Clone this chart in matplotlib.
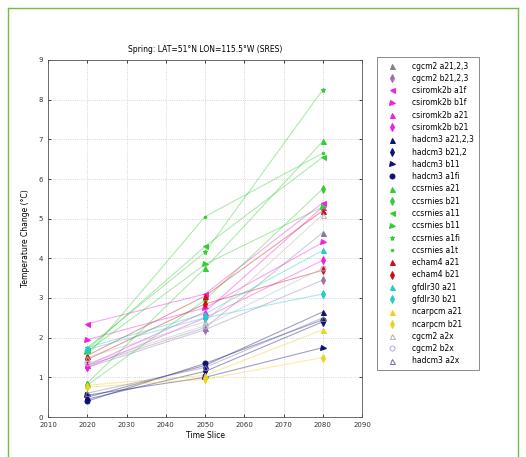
import matplotlib
matplotlib.use("Agg")
import matplotlib.pyplot as plt
from matplotlib.lines import Line2D

years = [2020, 2050, 2080]

series_names = [
    "cgcm2 a21,2,3", "cgcm2 b21,2,3",
    "csiromk2b a1f", "csiromk2b b1f", "csiromk2b a21", "csiromk2b b21",
    "hadcm3 a21,2,3", "hadcm3 b21,2", "hadcm3 b11", "hadcm3 a1fi",
    "ccsrnies a21", "ccsrnies b21", "ccsrnies a11", "ccsrnies b11", "ccsrnies a1fi", "ccsrnies a1t",
    "echam4 a21", "echam4 b21",
    "gfdlr30 a21", "gfdlr30 b21",
    "ncarpcm a21", "ncarpcm b21",
    "cgcm2 a2x", "cgcm2 b2x", "hadcm3 a2x",
]

series_values = [
    [1.30, 2.25, 4.65], [1.25, 2.20, 3.45],
    [2.35, 3.10, 5.40], [1.95, 2.75, 4.40], [1.30, 2.65, 5.30], [1.25, 2.50, 3.95],
    [0.50, 1.30, 2.65], [0.45, 1.15, 2.40], [0.55, 1.00, 1.75], [0.40, 1.35, 2.45],
    [0.85, 3.75, 6.95], [0.80, 2.95, 5.75], [1.70, 4.30, 6.55], [1.65, 3.85, 5.30], [1.75, 4.15, 8.25], [1.55, 5.05, 6.65],
    [1.55, 3.05, 5.20], [1.45, 2.85, 3.70],
    [1.75, 2.60, 4.20], [1.70, 2.50, 3.10],
    [0.80, 1.05, 2.20], [0.75, 0.95, 1.50],
    [1.50, 2.40, 5.10], [1.35, 2.30, 3.75], [0.60, 1.25, 2.50],
]

colors = [
    "#80808f", "#9a72b0",
    "#ee22dd", "#ee22dd", "#ee22dd", "#ee22dd",
    "#101070", "#101070", "#101070", "#101070",
    "#33cc33", "#33cc33", "#33cc33", "#33cc33", "#33cc33", "#33cc33",
    "#cc1111", "#cc1111",
    "#22cccc", "#22cccc",
    "#f0d020", "#f0d020",
    "#b0b0b0", "#b0b0d0", "#7070a0",
]
markers = ["^", "d", "<", ">", "^", "d", "^", "d", ">", "o",
           "^", "d", "<", ">", "*", ".", "^", "d", "^", "d", "^", "d",
           "^", "o", "^"]
filled = [True] * 22 + [False, False, False]

fig = plt.figure(figsize=(5.26, 4.57), dpi=100)
ax = fig.add_axes([48/526, 1-417/457, (362-48)/526, (417-60)/457])

handles = []
for name, vals, c, m, f in zip(series_names, series_values, colors, markers, filled):
    ax.plot(years, vals, color=c, alpha=0.4, lw=0.8, zorder=2)
    ax.plot(years, vals, linestyle="none", marker=m, markersize=3.6,
            markerfacecolor=c if f else "none", markeredgecolor=c,
            markeredgewidth=0.7, zorder=3)
    handles.append(Line2D([], [], linestyle="none", marker=m, markersize=3.6,
                          markerfacecolor=c if f else "none", markeredgecolor=c,
                          markeredgewidth=0.7, label=name))

ax.set_xlim(2010, 2090)
ax.set_ylim(0, 9)
ax.set_xticks(range(2010, 2091, 10))
ax.set_yticks(range(0, 10))
ax.grid(True, color="#c8c8c8", linestyle=":", linewidth=0.6)
ax.tick_params(labelsize=5, length=2, width=0.5, direction="in", top=True, right=True,
               labelcolor="#333333")
for s in ax.spines.values():
    s.set_linewidth(0.6)
    s.set_color("#555555")
ax.set_title("Spring: LAT=51°N LON=115.5°W (SRES)", fontsize=5.5, pad=6)
ax.set_xlabel("Time Slice", fontsize=5.5, labelpad=2)
ax.set_ylabel("Temperature Change (°C)", fontsize=5.5, labelpad=6)

leg = fig.legend(handles=handles, loc="upper left",
                 bbox_to_anchor=(377/526, 1-57/457), fontsize=5.5,
                 frameon=True, fancybox=False, edgecolor="#555555",
                 labelspacing=0.43, handletextpad=1.4, borderpad=0.6,
                 handlelength=2.6, borderaxespad=0)
leg.get_frame().set_linewidth(0.6)

# green outer frame
for xs, ys in [((8/526, 8/526), (0, 1-8/457)),
               ((8/526, 518/526), (1-8/457, 1-8/457)),
               ((518/526, 518/526), (0, 1-8/457))]:
    fig.add_artist(Line2D(xs, ys, color="#77bb44", lw=1.0, transform=fig.transFigure))

fig.savefig("out.png", dpi=100, facecolor="white")
